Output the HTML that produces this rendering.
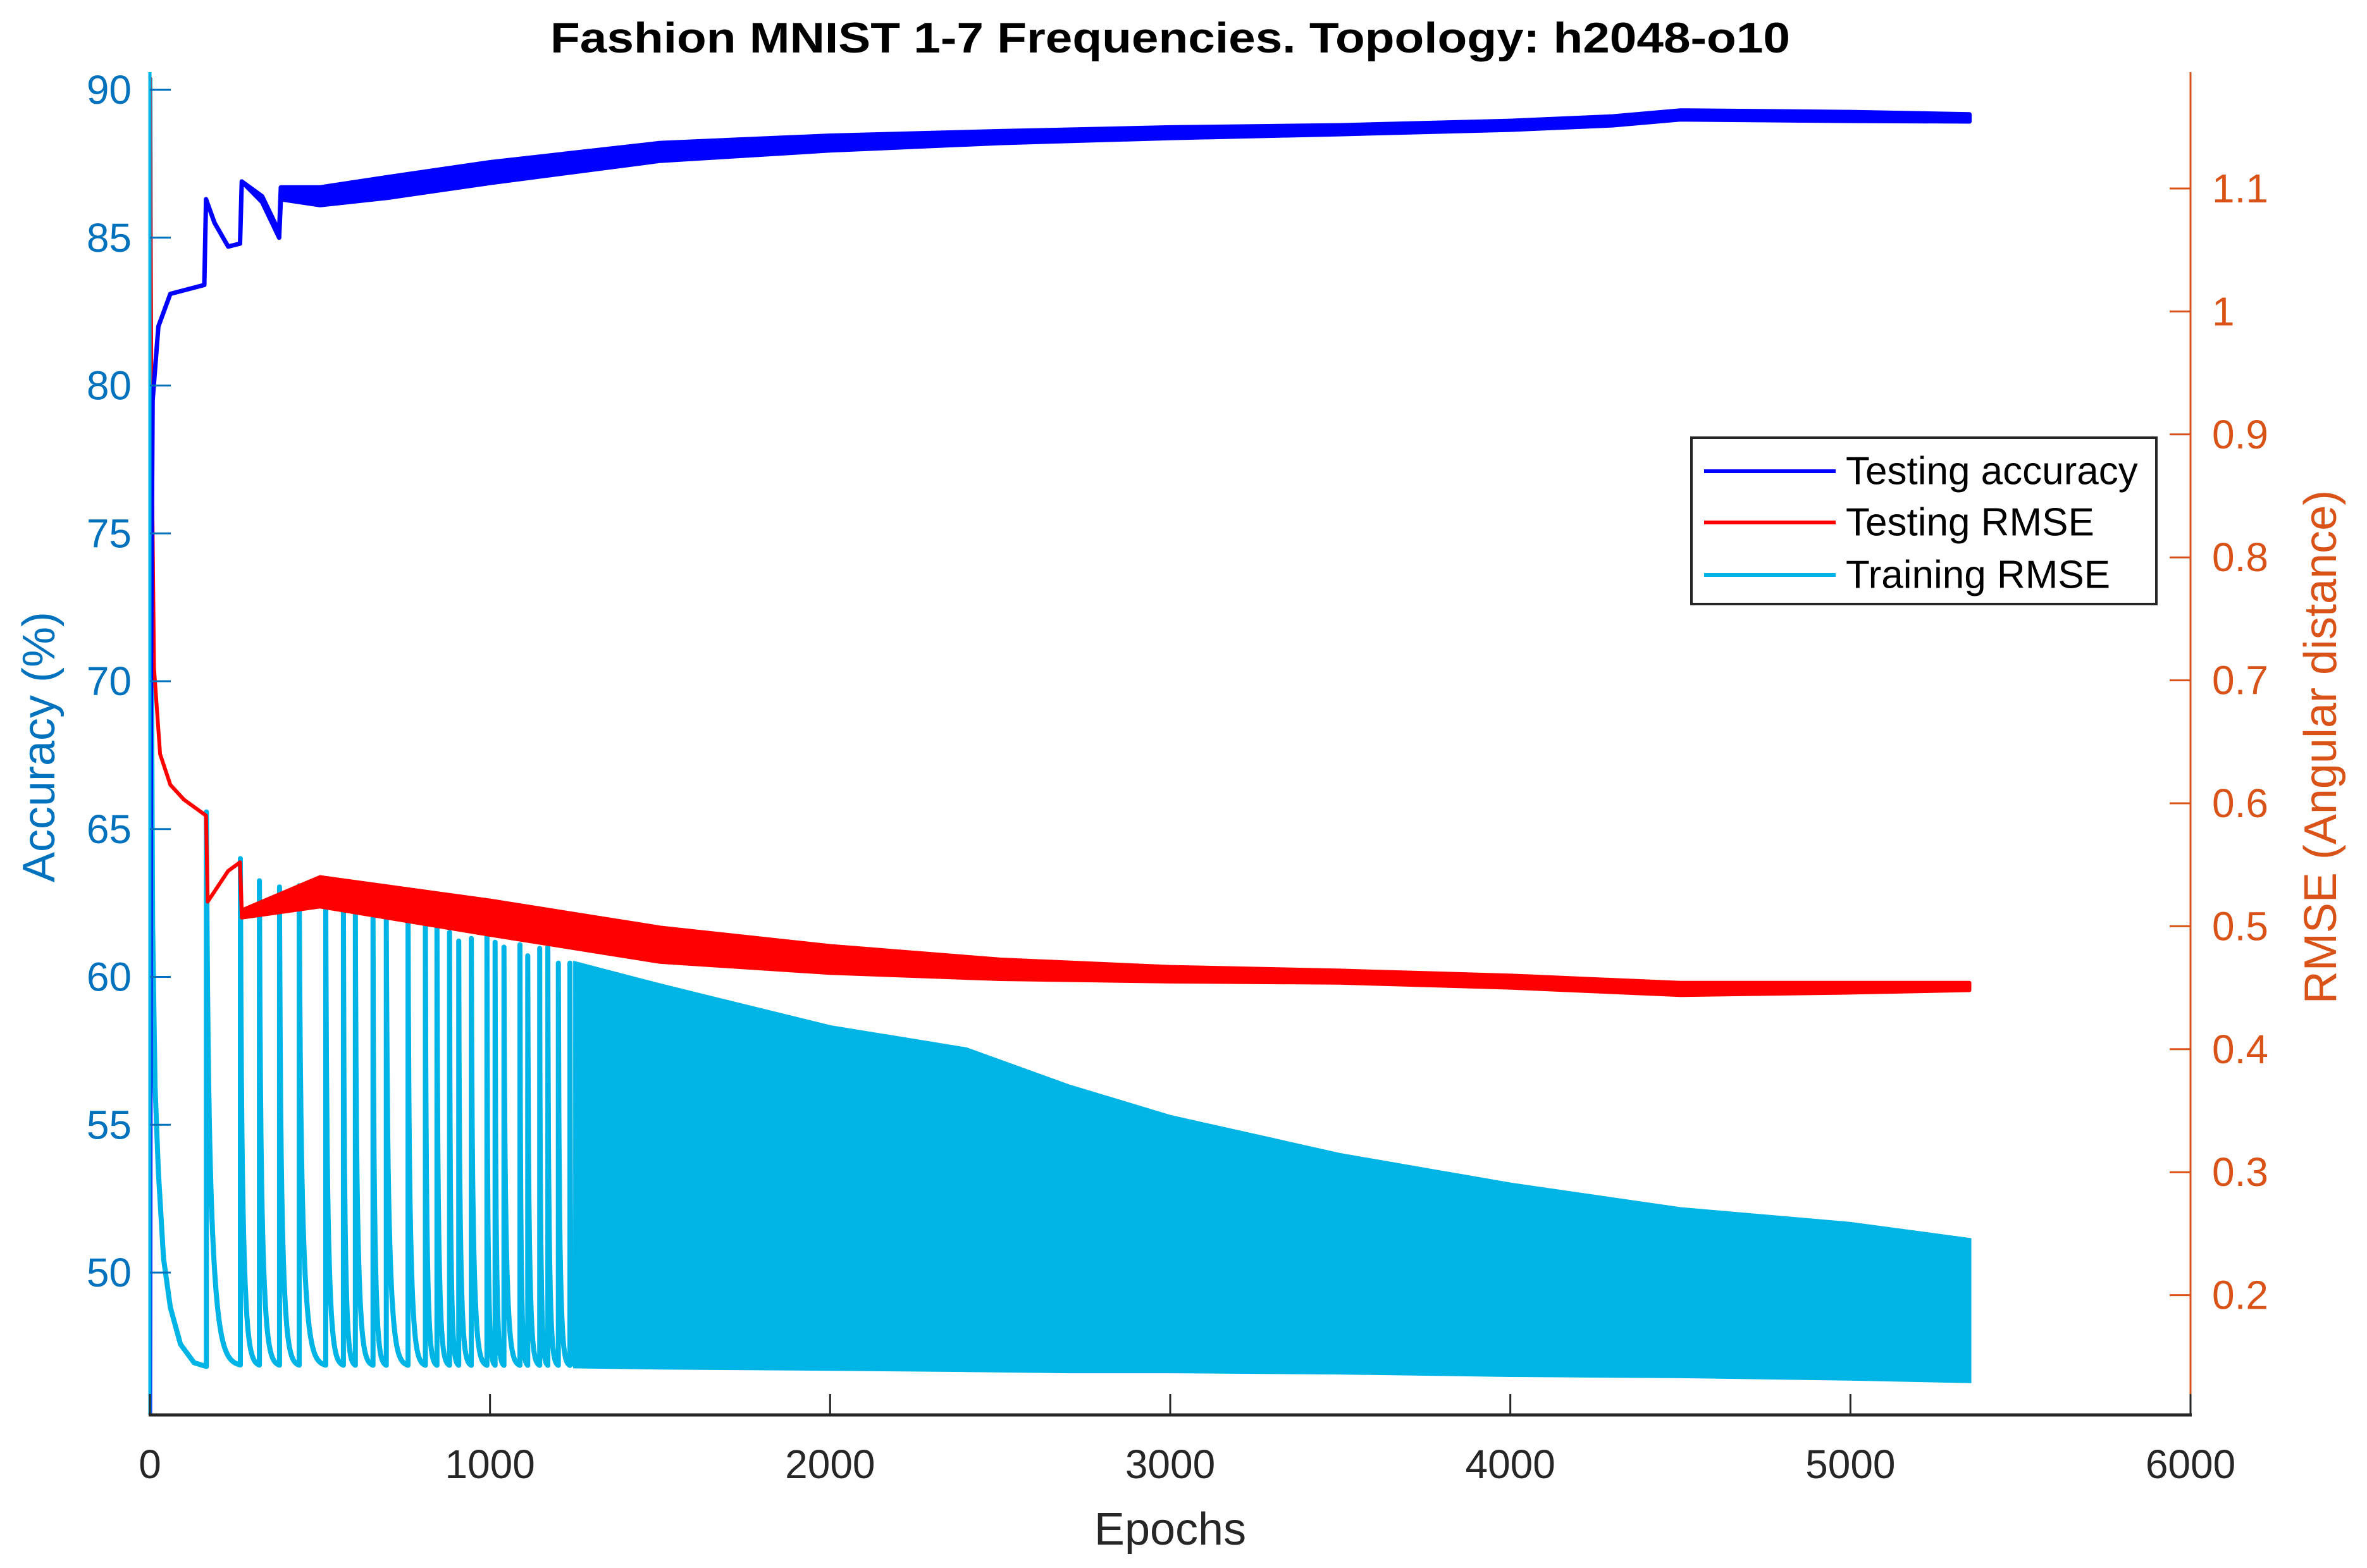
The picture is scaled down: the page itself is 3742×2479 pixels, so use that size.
<!DOCTYPE html>
<html><head><meta charset="utf-8"><style>
html,body{margin:0;padding:0;background:#fff;}
svg{display:block;font-family:"Liberation Sans",Arial,sans-serif;}
</style></head><body>
<svg id="chart" width="3742" height="2479" viewBox="0 0 3742 2479" xmlns="http://www.w3.org/2000/svg">
<rect width="3742" height="2479" fill="#fff"/>
<g id="plot"></g>
<g id="axes"></g>
<text x="1850" y="60" text-anchor="middle" dominant-baseline="central" font-weight="bold" font-size="68" textLength="1960" lengthAdjust="spacingAndGlyphs" fill="#000">Fashion MNIST 1-7 Frequencies. Topology: h2048-o10</text>
<text x="1850" y="2418" text-anchor="middle" dominant-baseline="central" font-size="72" fill="#262626">Epochs</text>
<text transform="translate(62,1181) rotate(-90)" text-anchor="middle" dominant-baseline="central" font-size="72" fill="#0072BD">Accuracy (%)</text>
<text transform="translate(3669,1181) rotate(-90)" text-anchor="middle" dominant-baseline="central" font-size="72" fill="#D95319">RMSE (Angular distance)</text>
<g>
<rect x="2674" y="692" width="735" height="263" fill="#fff" stroke="#262626" stroke-width="4"/>
<g>
<line x1="2694" y1="745" x2="2902" y2="745" stroke="#0000FF" stroke-width="6"/>
<text x="2918" y="745" dominant-baseline="central" font-size="62" fill="#000">Testing accuracy</text></g>
<g>
<line x1="2694" y1="826" x2="2902" y2="826" stroke="#FF0000" stroke-width="6"/>
<text x="2918" y="826" dominant-baseline="central" font-size="62" fill="#000">Testing RMSE</text></g>
<g>
<line x1="2694" y1="909" x2="2902" y2="909" stroke="#00B4E6" stroke-width="6"/>
<text x="2918" y="909" dominant-baseline="central" font-size="62" fill="#000">Training RMSE</text></g>
</g>
</svg>
<script>
// ---- data ----
const xTicks = [0,1000,2000,3000,4000,5000,6000];
const accTicks = [50,55,60,65,70,75,80,85,90];
const rmseTicks = [0.2,0.3,0.4,0.5,0.6,0.7,0.8,0.9,1,1.1];
const rmseTickLabels = ["0.2","0.3","0.4","0.5","0.6","0.7","0.8","0.9","1","1.1"];

const accEpochs = [0,3,8,25,60,160,165,190,230,265,270,330,380,385,500,700,1000,1500,2000,2500,3000,3500,4000,4300,4500,5000,5350];
const accValues = [45.2,70,79.5,82,83.1,83.4,86.3,85.5,84.7,84.8,86.9,86.3,85.1,86.5,86.4,86.7,87.2,87.9,88.2,88.4,88.55,88.65,88.8,88.95,89.15,89.1,89.05];
const accSpread = [0,0,0,0,0,0,0,0,0,0,0,0.1,0.1,0.2,0.3,0.35,0.35,0.3,0.25,0.2,0.18,0.15,0.15,0.15,0.15,0.15,0.12];

const testEpochs = [0,5,12,30,60,100,165,170,230,265,270,500,1000,1500,2000,2500,3000,3500,4000,4500,5000,5350];
const testValues = [1.19,0.9,0.71,0.64,0.615,0.603,0.59,0.52,0.545,0.552,0.51,0.528,0.507,0.485,0.473,0.465,0.461,0.459,0.455,0.449,0.45,0.451];
const testSpread = [0,0,0,0,0,0,0,0,0,0,0.003,0.012,0.014,0.014,0.011,0.008,0.006,0.005,0.005,0.005,0.004,0.003];

const trainInitEpochs = [0,3,8,15,25,40,60,90,130,166];
const trainInitValues = [1.19,0.8,0.5,0.37,0.3,0.23,0.19,0.16,0.145,0.142];
const trainSpikeEpochs = [166,266,322,381,439,517,569,604,656,695,759,810,844,881,908,945,991,1015,1041,1088,1111,1146,1170,1201,1235];
const trainSpikePeaks = [0.593,0.555,0.537,0.532,0.533,0.525,0.522,0.514,0.508,0.508,0.508,0.502,0.5,0.495,0.488,0.49,0.495,0.487,0.483,0.485,0.476,0.482,0.483,0.47,0.47];
const trainBase = 0.142;
const trainEnvEpochs = [1250,1500,2000,2400,2700,3000,3500,4000,4500,5000,5350];
const trainEnvPeak = [0.47,0.452,0.418,0.4,0.37,0.345,0.314,0.29,0.27,0.258,0.245];
const trainEnvBase = [0.142,0.141,0.14,0.139,0.138,0.138,0.137,0.135,0.134,0.132,0.13];

// ---- axes ----
const L=237,R=3463,T=114,B=2237;
const xS = e => L + e*(R-L)/6000;
const yAcc = v => 142 + (90-v)*46.75;
const yR = r => 298 + (1.1-r)*1944;
const NS="http://www.w3.org/2000/svg";
const plot=document.getElementById('plot'), axes=document.getElementById('axes');
function mk(tag,attrs,parent){const el=document.createElementNS(NS,tag);for(const k in attrs)el.setAttribute(k,attrs[k]);parent.appendChild(el);return el;}

const clip=mk('clipPath',{id:'pc'},axes);
mk('rect',{x:L,y:T,width:R-L,height:B-T},clip);
const g=mk('g',{'clip-path':'url(#pc)'},plot);

// training RMSE
let d='';
trainInitEpochs.forEach((e,i)=>{d+=(i?'L':'M')+xS(e).toFixed(1)+' '+yR(trainInitValues[i]).toFixed(1);});
trainSpikeEpochs.forEach((e,i)=>{
  const next = i<trainSpikeEpochs.length-1?trainSpikeEpochs[i+1]:trainEnvEpochs[0];
  const p=trainSpikePeaks[i];
  const span=next-e;
  d+='L'+xS(e).toFixed(1)+' '+yR(p).toFixed(1);
  for(let t=0.5;t<=span;t+=0.5){
    const f=t/span;
    const v=trainBase+(p-trainBase)*(0.35*Math.exp(-f*25)+0.65*Math.exp(-f*5.5));
    d+='L'+xS(e+t).toFixed(1)+' '+yR(v).toFixed(1);
  }
});
const trainLine=mk('path',{d:d,fill:'none',stroke:'#00B4E6','stroke-width':8,'stroke-linejoin':'round'},g);


let da='';
trainEnvEpochs.forEach((e,i)=>{da+=(i?'L':'M')+xS(e).toFixed(1)+' '+yR(trainEnvPeak[i]).toFixed(1);});
for(let i=trainEnvEpochs.length-1;i>=0;i--){da+='L'+xS(trainEnvEpochs[i]).toFixed(1)+' '+yR(trainEnvBase[i]).toFixed(1);}
da+='Z';
const trainArea=mk('path',{d:da,fill:'#00B4E6',stroke:'#00B4E6','stroke-width':6},g);



function band(xs,ys,sp,yf,color,w){
  let up='',lo=[];
  xs.forEach((e,i)=>{up+=(i?'L':'M')+xS(e).toFixed(1)+' '+yf(ys[i]+sp[i]).toFixed(1);lo.push('L'+xS(e).toFixed(1)+' '+yf(ys[i]-sp[i]).toFixed(1));});
  return mk('path',{d:up+lo.reverse().join('')+'Z',fill:color,stroke:color,'stroke-width':w,'stroke-linejoin':'round'},g);
}
const testBand=band(testEpochs,testValues,testSpread,yR,'#FF0000',6);


const accBand=band(accEpochs,accValues,accSpread,yAcc,'#0000FF',7);



// spines
const ls=mk('line',{x1:L,y1:T,x2:L,y2:B,stroke:'#00B4E6','stroke-width':5},axes);


const rs=mk('line',{x1:R,y1:T,x2:R,y2:B,stroke:'#D95319','stroke-width':3},axes);


const bs=mk('line',{x1:L-2,y1:B,x2:R+2,y2:B,stroke:'#262626','stroke-width':5},axes);



xTicks.forEach(v=>{
  const t=mk('line',{x1:xS(v),y1:B,x2:xS(v),y2:B-33,stroke:'#262626','stroke-width':3},axes);
  
  
  const lb=mk('text',{x:xS(v),y:2315,'text-anchor':'middle','dominant-baseline':'central','font-size':64,fill:'#262626'},axes);
  lb.textContent=v;
  
  
});
accTicks.forEach(v=>{
  const t=mk('line',{x1:L,y1:yAcc(v),x2:L+33,y2:yAcc(v),stroke:'#0072BD','stroke-width':3},axes);
  
  
  const lb=mk('text',{x:208,y:yAcc(v),'text-anchor':'end','dominant-baseline':'central','font-size':64,fill:'#0072BD'},axes);
  lb.textContent=v;
  
  
});
rmseTicks.forEach((v,i)=>{
  const t=mk('line',{x1:R,y1:yR(v),x2:R-33,y2:yR(v),stroke:'#D95319','stroke-width':3},axes);
  
  
  const lb=mk('text',{x:3497,y:yR(v),'text-anchor':'start','dominant-baseline':'central','font-size':64,fill:'#D95319'},axes);
  lb.textContent=rmseTickLabels[i];
  
  
});
</script>
</body></html>
